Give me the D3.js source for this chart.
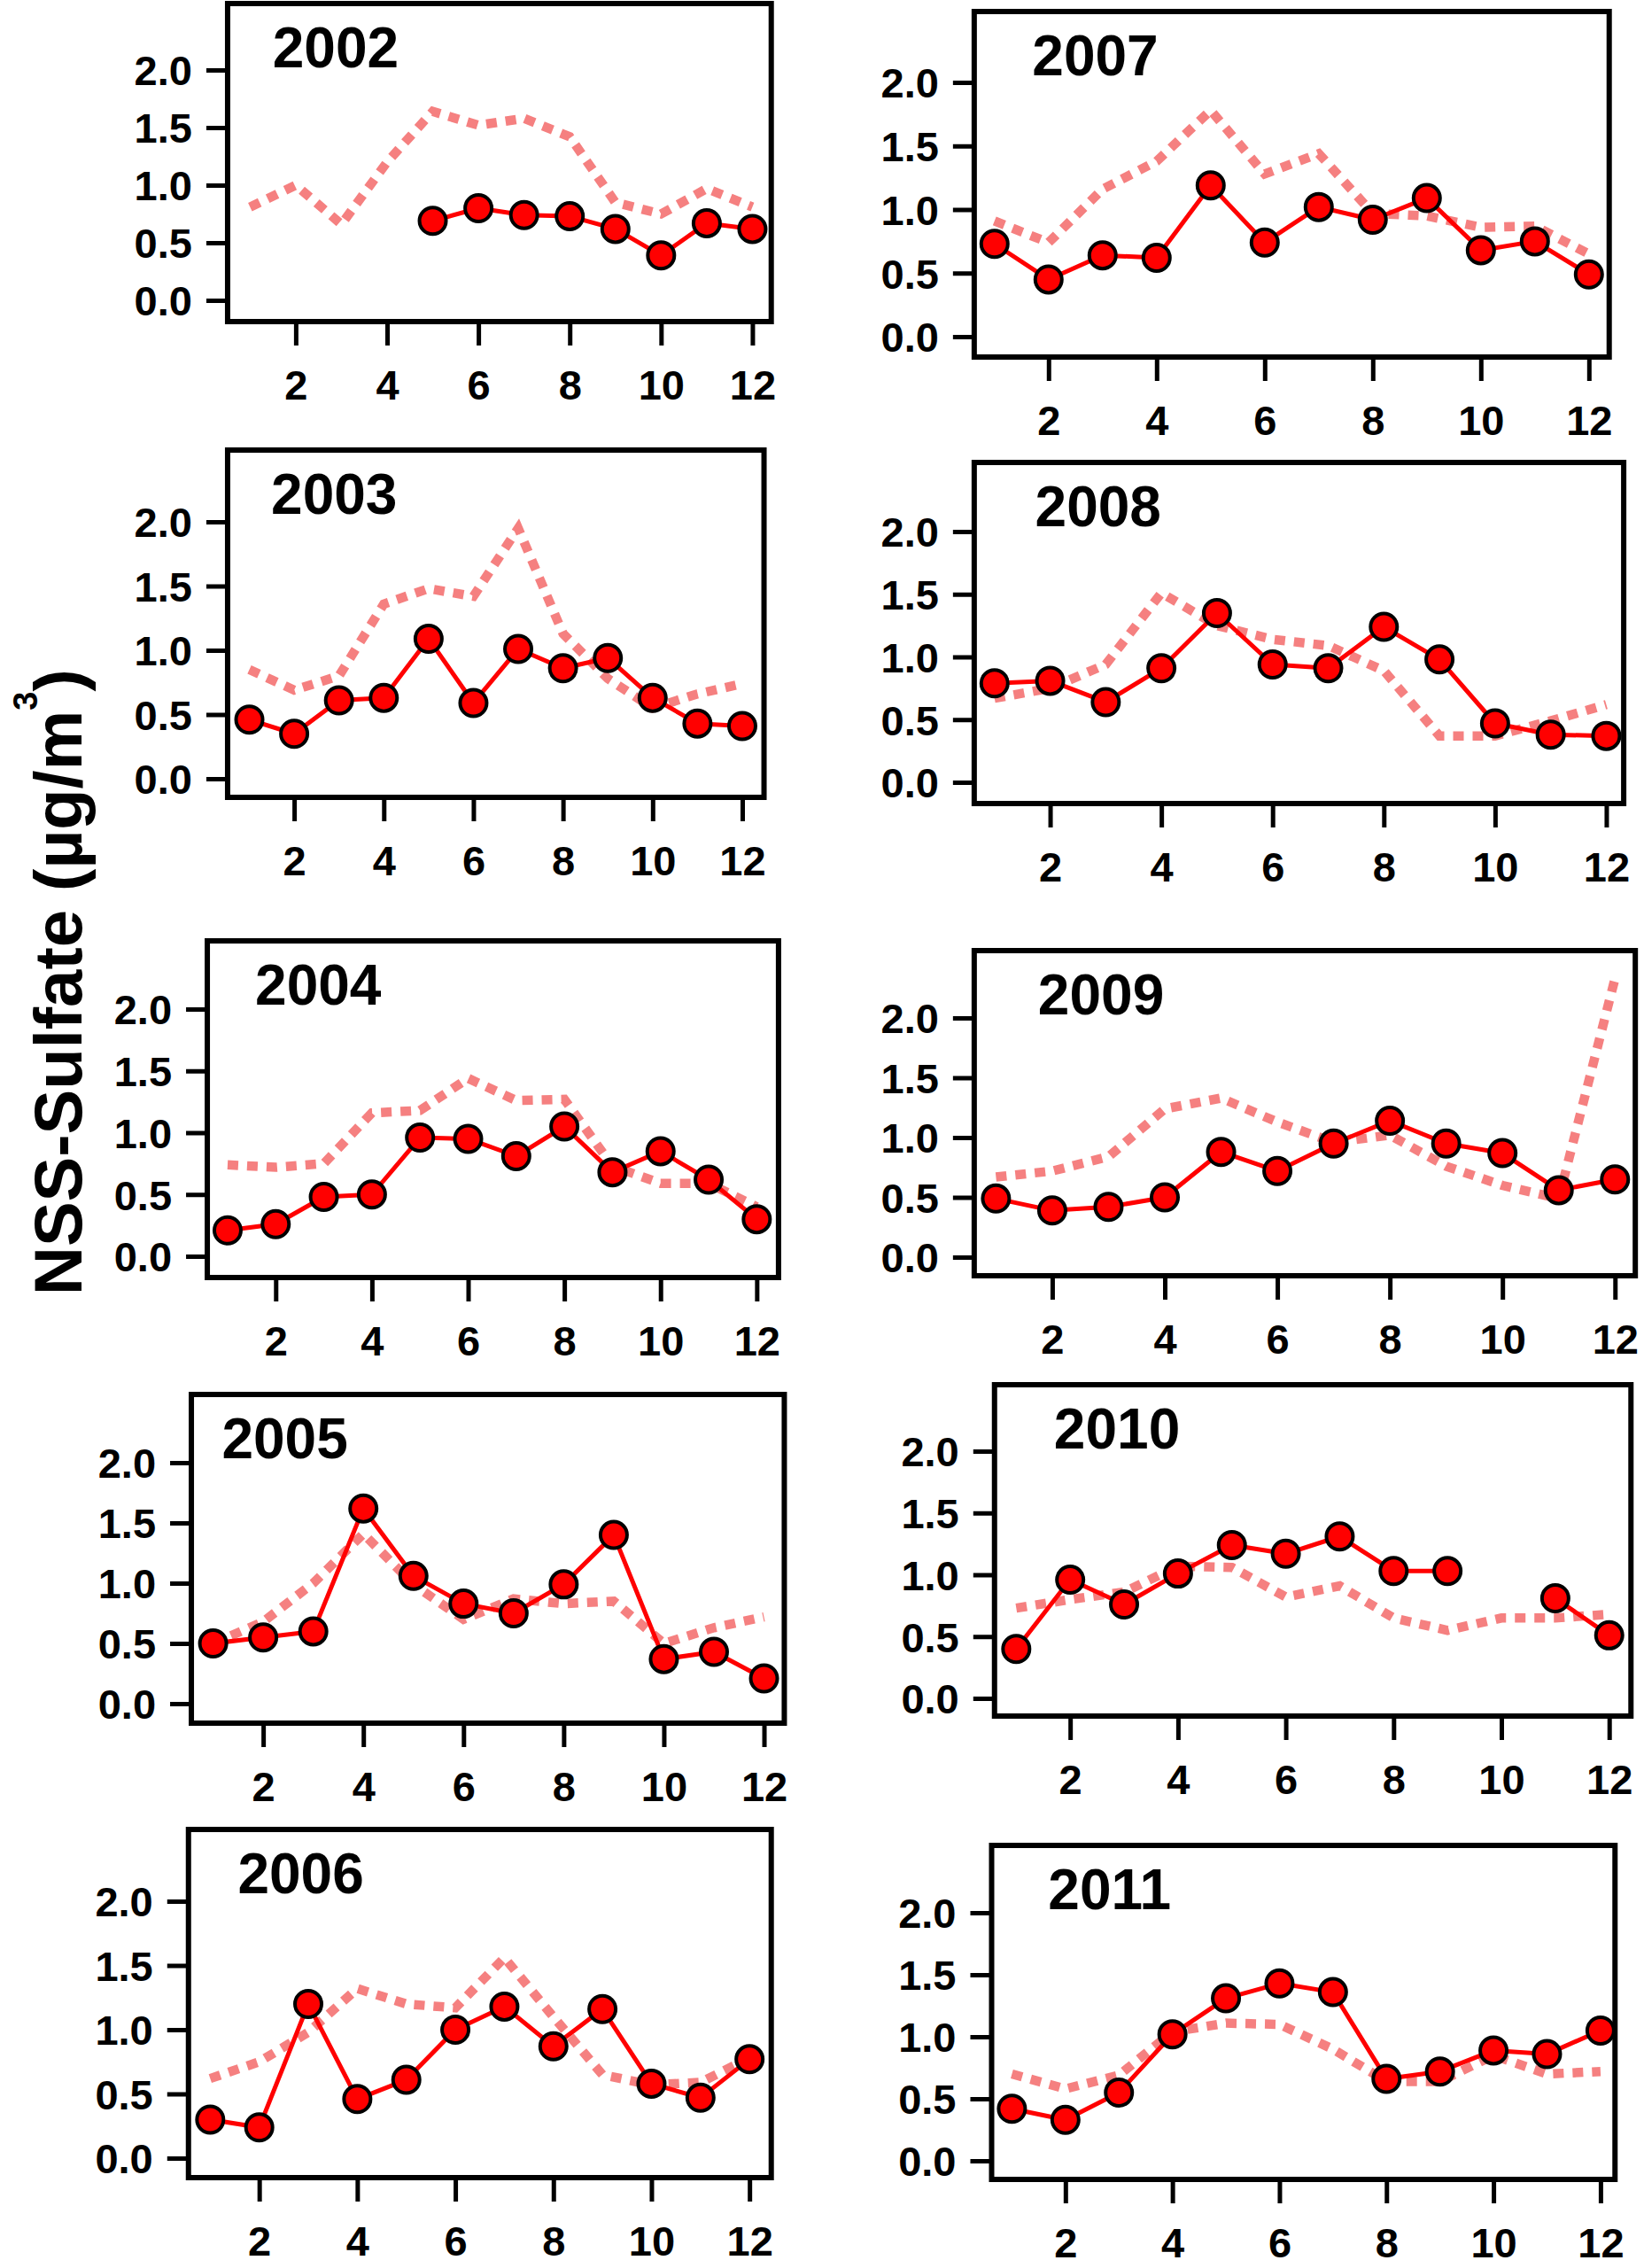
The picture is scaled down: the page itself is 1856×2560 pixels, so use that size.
<!DOCTYPE html>
<html>
<head>
<meta charset="utf-8">
<script src="https://cdn.jsdelivr.net/npm/d3@7"></script>
<style>
  html, body { margin: 0; padding: 0; background: #ffffff; }
  svg { display: block; }
  text { font-family: "Liberation Sans", Arial, Helvetica, sans-serif; font-weight: bold; fill: #000; }
</style>
</head>
<body>
<svg id="chart" width="1856" height="2560"></svg>
<script>
// ---------------- DATA ----------------
const years = [2002, 2003, 2004, 2005, 2006, 2007, 2008, 2009, 2010, 2011];
const months = [1, 2, 3, 4, 5, 6, 7, 8, 9, 10, 11, 12];
const xTickValues = [2, 4, 6, 8, 10, 12];
const yTickValues = [0.0, 0.5, 1.0, 1.5, 2.0];

// monthly NSS-sulfate (solid red line with markers)
const nss2002 = [null, null, null, null, 0.69, 0.80, 0.74, 0.73, 0.62, 0.39, 0.67, 0.62];
const nss2003 = [0.46, 0.35, 0.61, 0.63, 1.09, 0.59, 1.01, 0.86, 0.94, 0.63, 0.43, 0.41];
const nss2004 = [0.21, 0.26, 0.48, 0.50, 0.96, 0.95, 0.81, 1.05, 0.68, 0.85, 0.62, 0.30];
const nss2005 = [0.50, 0.55, 0.60, 1.62, 1.06, 0.83, 0.75, 0.99, 1.40, 0.37, 0.43, 0.21];
const nss2006 = [0.30, 0.24, 1.20, 0.46, 0.61, 1.00, 1.18, 0.87, 1.16, 0.58, 0.47, 0.77];
const nss2007 = [0.73, 0.45, 0.64, 0.62, 1.19, 0.74, 1.02, 0.92, 1.09, 0.68, 0.75, 0.49];
const nss2008 = [0.79, 0.81, 0.64, 0.91, 1.35, 0.94, 0.91, 1.24, 0.98, 0.47, 0.38, 0.37];
const nss2009 = [0.49, 0.39, 0.42, 0.50, 0.88, 0.72, 0.95, 1.14, 0.95, 0.87, 0.56, 0.65];
const nss2010 = [0.40, 0.96, 0.76, 1.01, 1.24, 1.17, 1.31, 1.03, 1.03, null, 0.81, 0.51];
const nss2011 = [0.42, 0.33, 0.55, 1.02, 1.31, 1.43, 1.36, 0.66, 0.72, 0.89, 0.86, 1.05];

// comparison series (pink dashed line)
const ref2002 = [0.81, 1.00, 0.66, 1.20, 1.64, 1.52, 1.58, 1.42, 0.85, 0.75, 0.97, 0.81];
const ref2003 = [0.85, 0.69, 0.80, 1.36, 1.48, 1.42, 1.95, 1.13, 0.78, 0.55, 0.66, 0.74];
const ref2004 = [0.74, 0.72, 0.75, 1.16, 1.18, 1.44, 1.26, 1.27, 0.73, 0.59, 0.59, 0.40];
const ref2005 = [0.50, 0.68, 1.00, 1.41, 0.99, 0.70, 0.87, 0.83, 0.85, 0.50, 0.63, 0.72];
const ref2006 = [0.62, 0.75, 0.98, 1.32, 1.20, 1.17, 1.56, 1.10, 0.65, 0.57, 0.59, 0.78];
const ref2007 = [0.91, 0.74, 1.16, 1.38, 1.78, 1.28, 1.44, 0.97, 0.95, 0.86, 0.87, 0.65];
const ref2008 = [0.67, 0.75, 0.94, 1.51, 1.25, 1.14, 1.09, 0.89, 0.37, 0.37, 0.49, 0.62];
const ref2009 = [0.67, 0.72, 0.84, 1.24, 1.33, 1.13, 0.96, 1.02, 0.76, 0.60, 0.49, 2.33];
const ref2010 = [0.73, 0.80, 0.86, 1.07, 1.06, 0.82, 0.91, 0.65, 0.55, 0.65, 0.65, 0.68];
const ref2011 = [0.70, 0.58, 0.69, 1.04, 1.11, 1.10, 0.90, 0.64, 0.64, 0.85, 0.70, 0.72];

const nssSeries = [nss2002, nss2003, nss2004, nss2005, nss2006, nss2007, nss2008, nss2009, nss2010, nss2011];
const refSeries = [ref2002, ref2003, ref2004, ref2005, ref2006, ref2007, ref2008, ref2009, ref2010, ref2011];

const yAxisTitle = "NSS-Sulfate (µg/m";
const yAxisSup = "3";
const yAxisEnd = ")";

// ---------------- LAYOUT ----------------
const S = 1856 / 1134;
// horizontal layout in reference units (scaled by S)
const frameX0 = [157, 157, 143, 132, 130, 672, 672, 672, 686, 684];
const frameX1 = [532, 527, 537, 541, 532, 1110, 1120, 1128, 1125, 1114];
const month1X = [172.5, 172, 157, 147, 145, 686, 686, 687, 701, 698];
const month12X = [519, 512, 522, 527, 517, 1096, 1108, 1114, 1110, 1104];
const labelDx = [31, 30, 33, 21, 34, 40, 42, 44, 41, 39];
// vertical layout in page pixels
const frameTop = [4, 508, 1062, 1574, 2065, 13, 522, 1073, 1563, 2083];
const frameBottom = [363, 900, 1442, 1945, 2458, 403, 907, 1440, 1937, 2460];
const zeroY = [339, 879, 1418, 1923, 2436, 380, 883, 1419, 1917, 2439];
const twoY = [79, 589, 1139, 1651, 2146, 93, 600, 1149, 1638, 2159];

const svg = d3.select("#chart");
svg.append("rect").attr("width", 1856).attr("height", 2560).attr("fill", "#fff");

const RED = "#ff0000";
const PINK = "#f58080";

years.forEach((yr, i) => {
  const x0 = frameX0[i] * S, x1 = frameX1[i] * S, y0 = frameTop[i], y1 = frameBottom[i];
  const x = d3.scaleLinear().domain([1, 12]).range([month1X[i] * S, month12X[i] * S]);
  const y = d3.scaleLinear().domain([0, 2]).range([zeroY[i], twoY[i]]);
  const g = svg.append("g").attr("class", "panel");

  // y axis (outside left of frame)
  const yAxis = d3.axisLeft(y).tickValues(yTickValues).tickFormat(d3.format(".1f"))
    .tickSize(24).tickPadding(16);
  const ya = g.append("g").attr("transform", `translate(${x0},0)`).call(yAxis);
  ya.select(".domain").remove();
  ya.selectAll(".tick line").attr("stroke", "#000").attr("stroke-width", 5);
  ya.selectAll(".tick text").attr("font-size", 47).attr("font-family", "Liberation Sans, Arial, sans-serif")
    .attr("font-weight", "bold").attr("fill", "#000").attr("dy", "0.36em");

  // x axis (below frame)
  const xAxis = d3.axisBottom(x).tickValues(xTickValues).tickFormat(d3.format("d"))
    .tickSize(27).tickPadding(28);
  const xa = g.append("g").attr("transform", `translate(0,${y1})`).call(xAxis);
  xa.select(".domain").remove();
  xa.selectAll(".tick line").attr("stroke", "#000").attr("stroke-width", 5);
  xa.selectAll(".tick text").attr("font-size", 47).attr("font-family", "Liberation Sans, Arial, sans-serif")
    .attr("font-weight", "bold").attr("fill", "#000").attr("dy", "0.71em");

  // clip for series
  const clipId = "clip" + yr;
  svg.append("clipPath").attr("id", clipId).append("rect")
    .attr("x", x0).attr("y", y0).attr("width", x1 - x0).attr("height", y1 - y0);
  const plot = g.append("g").attr("clip-path", `url(#${clipId})`);

  const refPts = months.map((m, k) => ({ m, v: refSeries[i][k] }));
  const nssPts = months.map((m, k) => ({ m, v: nssSeries[i][k] }));

  const line = d3.line().defined(d => d.v !== null).x(d => x(d.m)).y(d => y(d.v));

  plot.append("path").datum(refPts).attr("d", line)
    .attr("fill", "none").attr("stroke", PINK).attr("stroke-width", 10.5)
    .attr("stroke-dasharray", "12,10").attr("stroke-linejoin", "miter").attr("stroke-linecap", "butt");

  plot.append("path").datum(nssPts).attr("d", line)
    .attr("fill", "none").attr("stroke", RED).attr("stroke-width", 5).attr("stroke-linejoin", "round");

  plot.selectAll("circle").data(nssPts.filter(d => d.v !== null)).join("circle")
    .attr("cx", d => x(d.m)).attr("cy", d => y(d.v)).attr("r", 15)
    .attr("fill", RED).attr("stroke", "#000").attr("stroke-width", 4);

  // frame
  g.append("rect").attr("x", x0).attr("y", y0).attr("width", x1 - x0).attr("height", y1 - y0)
    .attr("fill", "none").attr("stroke", "#000").attr("stroke-width", 6);

  // year label
  g.append("text").attr("x", x0 + labelDx[i] * S).attr("y", y0 + 72)
    .attr("font-size", 64).text(yr);
});

// y axis title (rotated)
const title = svg.append("text")
  .attr("transform", `translate(92, 1462) rotate(-90)`)
  .attr("font-size", 76).attr("text-anchor", "start");
title.append("tspan").text(yAxisTitle);
title.append("tspan").attr("font-size", 38).attr("dy", -50).text(yAxisSup);
title.append("tspan").attr("dy", 50).text(yAxisEnd);
</script>
</body>
</html>
